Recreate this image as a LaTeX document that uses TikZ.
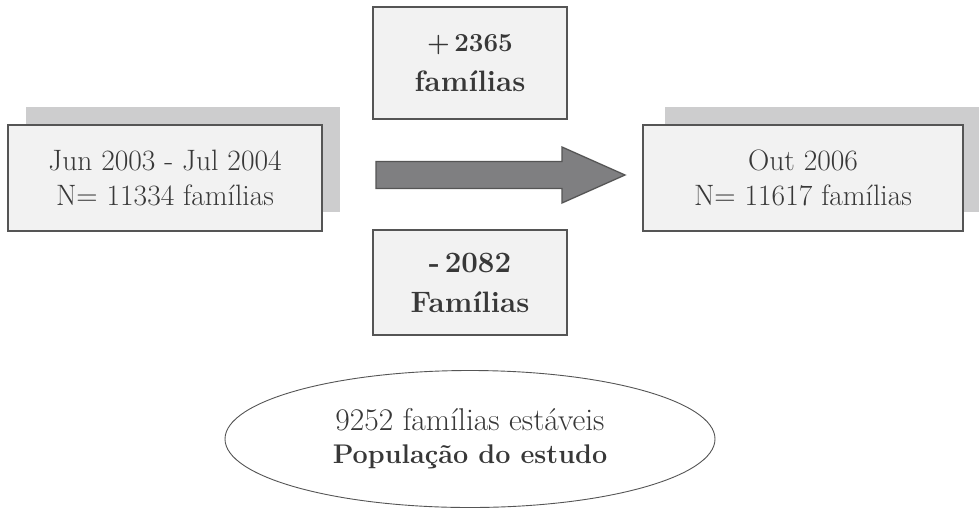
\documentclass[tikz,border=0pt]{standalone}
\usetikzlibrary{shapes.geometric,calc}
\definecolor{boxfill}{HTML}{F2F2F2}
\definecolor{boxline}{HTML}{555555}
\definecolor{shadowfill}{HTML}{CDCDCE}
\definecolor{arrowfill}{HTML}{7F7F81}
\definecolor{txt}{HTML}{383838}
\begin{document}
\begin{tikzpicture}[x=1pt,y=-1pt,
  box/.style={draw=boxline,line width=1.3pt,fill=boxfill,rectangle,inner sep=0pt,align=center,text=txt},
  regular/.style={font=\fontsize{29.5}{35.5}\selectfont},
  boldtxt/.style={font=\fontsize{29.5}{40}\selectfont\bfseries},
  oval/.style={draw=boxline,line width=0.9pt,fill=white,ellipse,inner sep=0pt,align=center,text=txt,font=\fontsize{31.5}{33}\selectfont}]
\useasboundingbox (0,0) rectangle (979,509);
% shadows
\fill[shadowfill] (26,107) rectangle (340,212);
\fill[shadowfill] (665,107) rectangle (979,212);
% boxes
\node[box,regular,minimum width=314pt,minimum height=106pt] (start) at (165,178) {Jun 2003 - Jul 2004\\N= 11334 famílias};
\node[box,regular,minimum width=320pt,minimum height=106pt] (end) at (803,178) {Out 2006\\N= 11617 famílias};
\node[box,boldtxt,minimum width=194pt,minimum height=112pt] (plus) at (470,63) {{\fontsize{26}{40}\selectfont +\,2365}\\famílias};
\node[box,boldtxt,minimum width=194pt,minimum height=105pt] (minus) at (470,282.5) {-\,2082\\Famílias};
\node[oval,minimum width=490pt,minimum height=137pt] (pop) at (470,439) {9252 famílias estáveis\\{\fontsize{27}{33}\selectfont\bfseries População do estudo}};
% big arrow
\coordinate (a0) at (376,175);
\coordinate (a1) at (625,175);
\draw[draw=boxline,line width=1.3pt,fill=arrowfill,line join=miter]
  ($(a0)+(0,-13.5)$) -- (562,161.5) -- (562,147) -- (a1) -- (562,203) -- (562,188.5) -- ($(a0)+(0,13.5)$) -- cycle;
\end{tikzpicture}
\end{document}
